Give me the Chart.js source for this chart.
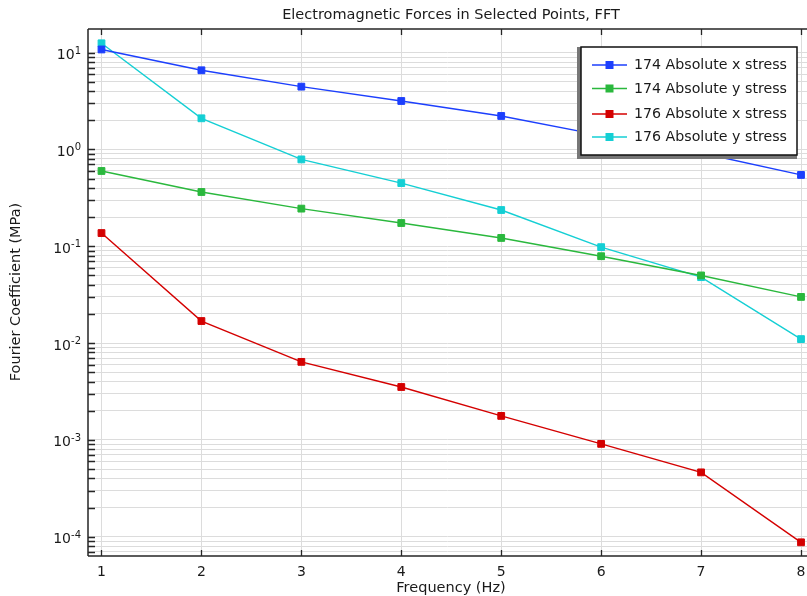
<!DOCTYPE html>
<html><head><meta charset="utf-8">
<script src="https://cdn.jsdelivr.net/npm/chart.js@4/dist/chart.umd.min.js"></script>
<style>html,body{margin:0;padding:0;background:#fff;} canvas{display:block;}</style>
</head><body>
<canvas id="c" width="807" height="596"></canvas>
<script>
// ---- data ----
const frequencies = [1, 2, 3, 4, 5, 6, 7, 8];
const seriesNames = ['174 Absolute x stress', '174 Absolute y stress', '176 Absolute x stress', '176 Absolute y stress'];
const abs174x = [10.8, 6.58, 4.46, 3.17, 2.22, 1.40, 0.92, 0.546];
const abs174y = [0.60, 0.364, 0.245, 0.174, 0.122, 0.079, 0.050, 0.030];
const abs176x = [0.137, 0.0169, 0.0064, 0.00352, 0.00177, 0.00091, 0.000462, 0.0000875];
const abs176y = [12.5, 2.1, 0.79, 0.45, 0.237, 0.098, 0.048, 0.011];
const xTickLabels = ['1', '2', '3', '4', '5', '6', '7', '8'];
const yTickExponents = [1, 0, -1, -2, -3, -4];
const chartTitle = 'Electromagnetic Forces in Selected Points, FFT';
const xAxisTitle = 'Frequency (Hz)';
const yAxisTitle = 'Fourier Coefficient (MPa)';

const colors = ['#1c3ffd', '#2ab83d', '#d40000', '#14cfd4'];
const seriesValues = [abs174x, abs174y, abs176x, abs176y];
const FONT = '"DejaVu Sans", sans-serif';

const datasets = seriesValues.map((vals, i) => ({
  label: seriesNames[i],
  data: frequencies.map((f, j) => ({ x: f, y: vals[j] })),
  borderColor: colors[i],
  backgroundColor: colors[i],
  borderWidth: 1.4,
  pointStyle: 'rect',
  pointRadius: 4.8,
  pointBorderWidth: 1,
  pointBorderColor: colors[i],
  pointBackgroundColor: colors[i],
  tension: 0,
  clip: false
}));

const Y_MIN = 6.32e-5, Y_MAX = 17.57;

function logTicks() {
  const t = [];
  for (let e = -6; e <= 2; e++) {
    for (let m = 1; m <= 9; m++) {
      const v = parseFloat((m * Math.pow(10, e)).toPrecision(12));
      if (v >= Y_MIN && v <= Y_MAX) t.push({ value: v, major: m === 1 });
    }
  }
  return t;
}

const decor = {
  id: 'decor',
  afterDraw(chart) {
    const ctx = chart.ctx;
    const a = chart.chartArea;
    const xs = chart.scales.x, ys = chart.scales.y;
    const W = chart.width;
    ctx.save();
    // frame
    ctx.strokeStyle = '#262626';
    ctx.lineWidth = 1.5;
    ctx.beginPath();
    ctx.moveTo(a.left, a.top); ctx.lineTo(W, a.top);
    ctx.moveTo(a.left, a.top); ctx.lineTo(a.left, a.bottom);
    ctx.moveTo(a.left, a.bottom); ctx.lineTo(W, a.bottom);
    ctx.stroke();
    // x tick marks (top and bottom, inward)
    ctx.lineWidth = 1.3;
    ctx.beginPath();
    frequencies.forEach(f => {
      const px = Math.round(xs.getPixelForValue(f)) + 0.5;
      ctx.moveTo(px, a.bottom); ctx.lineTo(px, a.bottom - 6);
      ctx.moveTo(px, a.top); ctx.lineTo(px, a.top + 6);
    });
    // y tick marks (left, inward)
    logTicks().forEach(t => {
      const py = Math.round(ys.getPixelForValue(t.value)) + 0.5;
      ctx.moveTo(a.left, py); ctx.lineTo(a.left + 7, py);
    });
    ctx.stroke();
    // x tick labels
    ctx.fillStyle = '#1a1a1a';
    ctx.font = '14px ' + FONT;
    ctx.textAlign = 'center';
    ctx.textBaseline = 'alphabetic';
    frequencies.forEach((f, i) => {
      ctx.fillText(xTickLabels[i], xs.getPixelForValue(f), 576);
    });
    // y tick labels with superscripts
    yTickExponents.forEach(e => {
      const py = ys.getPixelForValue(Math.pow(10, e));
      const sup = e < 0 ? '-' + Math.abs(e) : String(e);
      ctx.font = '10px ' + FONT;
      const ws = ctx.measureText(sup).width;
      ctx.textAlign = 'left';
      ctx.fillText(sup, 81 - ws, py + 1);
      ctx.font = '14px ' + FONT;
      ctx.textAlign = 'right';
      ctx.fillText('10', 81 - ws, py + 6.5);
    });
    // titles
    ctx.textAlign = 'center';
    ctx.font = '14.5px ' + FONT;
    ctx.fillText(chartTitle, 451, 18.5);
    ctx.fillText(xAxisTitle, 451, 592);
    ctx.save();
    ctx.translate(16, 292);
    ctx.rotate(-Math.PI / 2);
    ctx.textBaseline = 'middle';
    ctx.fillText(yAxisTitle, 0, 0);
    ctx.restore();
    // legend
    const bx = 581, by = 47, bw = 216, bh = 108;
    ctx.fillStyle = '#777777';
    ctx.fillRect(bx - 4, by, bw + 4, bh + 4);
    ctx.fillStyle = '#ffffff';
    ctx.fillRect(bx, by, bw, bh);
    ctx.strokeStyle = '#111111';
    ctx.lineWidth = 1.5;
    ctx.strokeRect(bx, by, bw, bh);
    const rows = [65, 88.5, 114, 137];
    chart.data.datasets.forEach((ds, i) => {
      const y = rows[i];
      ctx.strokeStyle = ds.borderColor;
      ctx.lineWidth = 1.4;
      ctx.beginPath();
      ctx.moveTo(592, y); ctx.lineTo(627, y);
      ctx.stroke();
      ctx.fillStyle = ds.borderColor;
      ctx.fillRect(609.5 - 4, y - 4, 8, 8);
      ctx.fillStyle = '#1a1a1a';
      ctx.font = '14.2px ' + FONT;
      ctx.textAlign = 'left';
      ctx.textBaseline = 'middle';
      ctx.fillText(ds.label, 634, y + 0.5);
    });
    ctx.restore();
  }
};

new Chart(document.getElementById('c'), {
  type: 'line',
  data: { datasets },
  plugins: [decor],
  options: {
    responsive: false,
    devicePixelRatio: 1,
    animation: false,
    layout: { autoPadding: false, padding: { top: 29, left: 0, right: 0, bottom: 0 } },
    plugins: { legend: { display: false }, title: { display: false }, tooltip: { enabled: false } },
    scales: {
      x: {
        type: 'linear',
        min: 0.865,
        max: 8.06,
        ticks: { display: false, includeBounds: false },
        afterBuildTicks: s => { s.ticks = frequencies.map(v => ({ value: v })); },
        afterFit: s => { s.height = 40; },
        grid: { color: '#dcdcdc', lineWidth: 1, drawTicks: false },
        border: { display: false }
      },
      y: {
        type: 'logarithmic',
        min: Y_MIN,
        max: Y_MAX,
        ticks: { display: false },
        afterBuildTicks: s => { s.ticks = logTicks(); },
        afterFit: s => { s.width = 88; },
        grid: { color: '#dcdcdc', lineWidth: 1, drawTicks: false },
        border: { display: false }
      }
    }
  }
});
</script>
</body></html>
